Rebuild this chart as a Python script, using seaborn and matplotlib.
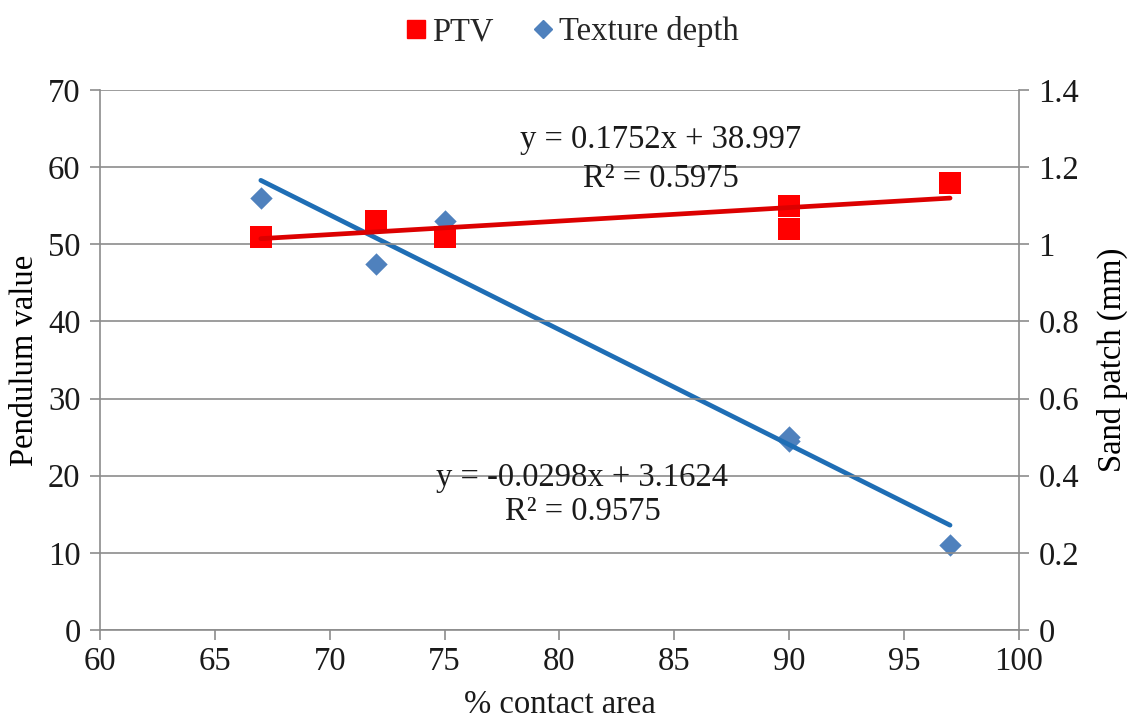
import numpy as np
import pandas as pd
import matplotlib
matplotlib.use("Agg")
import matplotlib.pyplot as plt
from matplotlib.lines import Line2D
import seaborn as sns

# Measurements per surface
contact_area = [67, 72, 75, 90, 90, 97]          # % contact area
ptv = [51, 53, 51, 52, 55, 58]                   # pendulum test value
texture_depth = [1.12, 0.95, 1.06, 0.49, 0.50, 0.22]  # sand patch (mm)

# Linear trendline coefficients (slope, intercept) and R²
ptv_fit = (0.1752, 38.997)
ptv_r2 = 0.5975
td_fit = (-0.0298, 3.1624)
td_r2 = 0.9575

x_ticks = [60, 65, 70, 75, 80, 85, 90, 95, 100]
left_ticks = [0, 10, 20, 30, 40, 50, 60, 70]
right_ticks = [0, 0.2, 0.4, 0.6, 0.8, 1.0, 1.2, 1.4]
right_labels = ["0", "0.2", "0.4", "0.6", "0.8", "1", "1.2", "1.4"]

sns.set_theme(style="white")
plt.rcParams["font.family"] = ["Liberation Serif", "DejaVu Serif"]

FS = 23.5
grid_col = "#8c8c8c"
txt_col = "#1a1a1a"
red_mark = "#ff0000"
red_line = "#dc0000"
blue_mark = "#4f81bd"
blue_line = "#1f6eb5"

df = pd.DataFrame({"area": contact_area, "ptv": ptv, "td": texture_depth})

fig = plt.figure(figsize=(11.38, 7.26), dpi=100)
ax = fig.add_axes([0.0879, 0.1322, 0.8075, 0.7438])
ax2 = ax.twinx()

# trendlines over the data range
xs = np.array([min(contact_area), max(contact_area)], dtype=float)
fit_ptv = pd.DataFrame({"x": xs, "y": ptv_fit[0] * xs + ptv_fit[1]})
fit_td = pd.DataFrame({"x": xs, "y": td_fit[0] * xs + td_fit[1]})

sns.scatterplot(data=df, x="area", y="ptv", ax=ax, marker="s", s=270,
                color=red_mark, edgecolor=red_mark, linewidth=0, zorder=3)
sns.lineplot(data=fit_ptv, x="x", y="y", ax=ax, color=red_line, lw=3.4, zorder=4)

sns.scatterplot(data=df, x="area", y="td", ax=ax2, marker="D", s=130,
                color=blue_mark, edgecolor=blue_mark, linewidth=0, zorder=3)
sns.lineplot(data=fit_td, x="x", y="y", ax=ax2, color=blue_line, lw=3.4, zorder=4)

ax.set_xlim(60, 100)
ax.set_ylim(0, 70)
ax2.set_ylim(0, 1.4)
ax.set_xticks(x_ticks)
ax.set_yticks(left_ticks)
ax2.set_yticks(right_ticks)
ax2.set_yticklabels(right_labels)

ax.yaxis.grid(True, color=grid_col, lw=1.2)
ax.xaxis.grid(False)
ax2.grid(False)

for a in (ax, ax2):
    for side, sp in a.spines.items():
        sp.set_color(grid_col)
        sp.set_linewidth(1.2)
    a.spines["top"].set_visible(False)
ax.spines["right"].set_visible(False)
ax2.spines["left"].set_visible(False)
ax2.spines["bottom"].set_visible(False)

ax.tick_params(axis="both", direction="out", length=7, width=1.2, color=grid_col,
               labelsize=FS, labelcolor=txt_col, pad=5)
ax.tick_params(axis="y", left=True, pad=7)
ax.tick_params(axis="x", bottom=True)
ax2.tick_params(axis="y", direction="out", length=7, width=1.2, color=grid_col,
                labelsize=FS, labelcolor=txt_col, pad=7, right=True)

ax.set_xlabel("% contact area", fontsize=FS, color=txt_col, labelpad=9)
ax.set_ylabel("Pendulum value", fontsize=FS, color="#000000", labelpad=6)
ax2.set_ylabel("Sand patch (mm)", fontsize=FS, color="#000000", labelpad=13)

ax.set_zorder(ax2.get_zorder() + 1)
ax.patch.set_visible(False)

# trendline equations
ax.text(84.4, 63.5, f"y = {ptv_fit[0]:.4f}x + {ptv_fit[1]:.3f}", ha="center",
        va="center", fontsize=FS, color=txt_col, zorder=6)
ax.text(84.4, 58.5, f"R² = {ptv_r2:.4f}", ha="center", va="center",
        fontsize=FS, color=txt_col, zorder=6)
ax.text(81.0, 19.7, f"y = {td_fit[0]:.4f}x + {td_fit[1]:.4f}", ha="center",
        va="center", fontsize=FS, color=txt_col, zorder=6)
ax.text(81.0, 15.3, f"R² = {td_r2:.4f}", ha="center", va="center",
        fontsize=FS, color=txt_col, zorder=6)

handles = [
    Line2D([], [], marker="s", ls="", color=red_mark, markersize=13),
    Line2D([], [], marker="D", ls="", color=blue_mark, markersize=9),
]
fig.legend(handles, ["PTV", "Texture depth"], loc="upper center",
           bbox_to_anchor=(0.5, 1.018), ncol=2, frameon=False, fontsize=FS,
           handletextpad=0.0, columnspacing=1.0, handlelength=1.0)

fig.savefig("out.png", dpi=100, facecolor="white")
